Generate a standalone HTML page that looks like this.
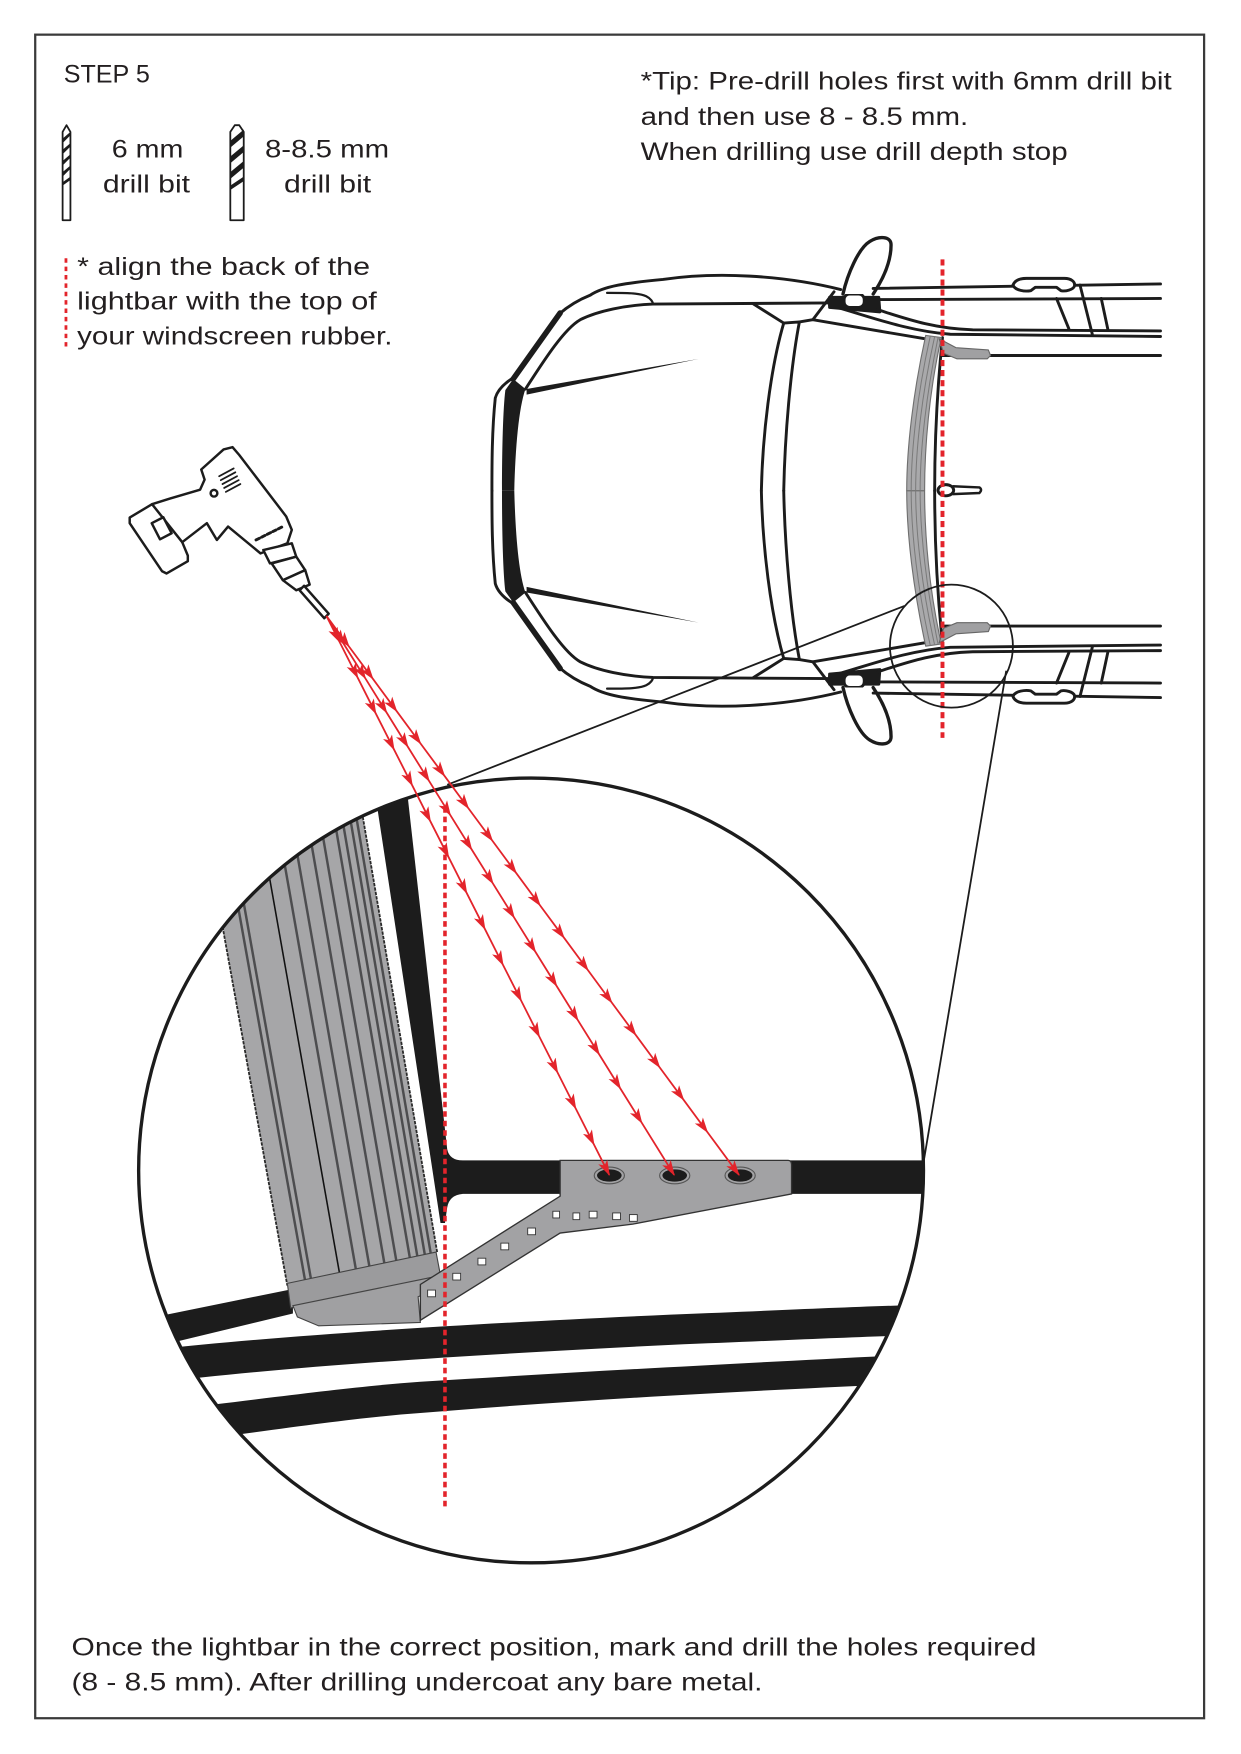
<!DOCTYPE html>
<html><head><meta charset="utf-8"><style>
html,body{margin:0;padding:0;background:#fff;}
svg{display:block;}
text{font-family:"Liberation Sans",Arial,sans-serif;font-size:22.5px;fill:#231f20;}
</style></head><body>
<svg width="1241" height="1754" viewBox="0 0 1110 1569" preserveAspectRatio="none" xmlns="http://www.w3.org/2000/svg" xmlns:xlink="http://www.w3.org/1999/xlink">
<defs>
<marker id="ah" markerUnits="userSpaceOnUse" markerWidth="16" markerHeight="12" refX="13" refY="4.5" orient="auto">
<path d="M0,0 L14,4.5 L0,9 L3.5,4.5 Z" fill="#e3242b"/>
</marker>
<clipPath id="bc"><circle cx="475" cy="1047" r="350"/></clipPath>
</defs>
<rect x="0" y="0" width="1110" height="1569" fill="#fff"/>
<rect x="31.5" y="31" width="1045.5" height="1506" fill="none" stroke="#3a3a3a" stroke-width="2"/>

<!-- texts -->
<text x="57" y="74" textLength="77" lengthAdjust="spacingAndGlyphs">STEP 5</text>
<text x="100" y="141" textLength="64" lengthAdjust="spacingAndGlyphs">6 mm</text>
<text x="92" y="172" textLength="78" lengthAdjust="spacingAndGlyphs">drill bit</text>
<text x="237" y="141" textLength="111" lengthAdjust="spacingAndGlyphs">8-8.5 mm</text>
<text x="254" y="172" textLength="78" lengthAdjust="spacingAndGlyphs">drill bit</text>
<text x="69" y="246" textLength="262" lengthAdjust="spacingAndGlyphs">* align the back of the</text>
<text x="69" y="277" textLength="268" lengthAdjust="spacingAndGlyphs">lightbar with the top of</text>
<text x="69" y="308" textLength="282" lengthAdjust="spacingAndGlyphs">your windscreen rubber.</text>
<text x="573" y="80" textLength="475" lengthAdjust="spacingAndGlyphs">*Tip: Pre-drill holes first with 6mm drill bit</text>
<text x="573" y="112" textLength="293" lengthAdjust="spacingAndGlyphs">and then use 8 - 8.5 mm.</text>
<text x="573" y="143" textLength="382" lengthAdjust="spacingAndGlyphs">When drilling use drill depth stop</text>
<text x="64" y="1481" textLength="863" lengthAdjust="spacingAndGlyphs">Once the lightbar in the correct position, mark and drill the holes required</text>
<text x="64" y="1512" textLength="618" lengthAdjust="spacingAndGlyphs">(8 - 8.5 mm). After drilling undercoat any bare metal.</text>

<line x1="59" y1="231" x2="59" y2="312" stroke="#e3242b" stroke-width="2.5" stroke-dasharray="4 3.5"/>

<!-- drill bit icons -->
<g stroke="#1c1c1c" stroke-width="1.6" fill="#fff" stroke-linejoin="round">
<path d="M56,118 L59.5,112 L63,118 L63,197 L56,197 Z"/>
<path d="M56,124 L63,118 L63,121 L56,128 Z M56,134 L63,128 L63,131 L56,138 Z M56,144 L63,138 L63,141 L56,148 Z M56,154 L63,148 L63,151 L56,158 Z M56,163 L63,158 L63,161 L56,166 Z" fill="#1c1c1c" stroke="none"/>
<path d="M206,118 L210,112 L214,112 L218,118 L218,197 L206,197 Z"/>
<path d="M206,126 L218,116 L218,122 L206,132 Z M206,140 L218,130 L218,136 L206,146 Z M206,154 L218,144 L218,150 L206,160 Z M206,166 L218,158 L218,162 L206,170 Z" fill="#1c1c1c" stroke="none"/>
</g>

<!-- car top half -->
<g id="ct" fill="none" stroke="#1c1c1c" stroke-width="2.6" stroke-linecap="round" stroke-linejoin="round">
<path d="M752,259 C700,246 640,243 593,250 C560,253 540,256 528,264 C518,268 508,274 500,281 L459,338 C451,343 445,349 443,356 C440,385 440,415 440,439"/>
<path d="M501,280 L459,339" stroke-width="5"/>
<path d="M459,339 L470,348 C464,365 461,400 460,439 L449,439 C449,400 450,365 452,349 Z" fill="#1c1c1c" stroke="none"/>
<path d="M470,348 C488,320 505,294 519,286 C535,278 560,273 584,272 L742,271"/>
<path d="M543,262 C560,262 572,262 578,265 C582,267 584,270 584,272" stroke-width="2"/>
<path d="M471,348 L625,321 L471,353 Z" fill="#1c1c1c" stroke="none"/>
<path d="M674,272 L701,289 C689,330 682,390 681,439"/>
<path d="M701,289 L715,288 C707,330 702,390 701,439"/>
<path d="M715,288 L727,286 L746,261"/>
<path d="M727,286 L827,303"/>
<path d="M742,266 L786,266 L787,279 L742,275 Z" fill="#1c1c1c"/>
<rect x="755" y="263" width="18" height="12" rx="5" fill="#fff"/>
<path d="M754,263 C758,245 768,222 778,216 C786,211 797,211 797,219 C797,235 789,251 781,263" fill="#fff" stroke-width="3"/>
<path d="M781,258 L1038,254"/>
<path d="M787,268 L1038,267"/>
<path d="M785,277 C810,285 835,294 870,295 L1038,296"/>
<path d="M742,273 C775,282 810,296 850,299 L1038,301"/>
<path d="M843,318 L1038,318"/>
<path d="M906,255 C908,250 913,249 918,249 L952,249 C958,249 962,252 961,256 C960,259 953,261 949,260 L945,257 L926,257 L922,260 C917,261 908,260 906,255 Z" fill="#fff"/>
<path d="M945,267 L956,294 M966,255 L977,299 M985,267 L991,295"/>
<path d="M843,302 C838,350 836,400 836,439"/>
<path d="M828,300 C817,350 811,400 811,439 L827,439 C827,400 831,350 842,302 Z" fill="#a9a9ab" stroke="#6f6f6f" stroke-width="1"/>
<path d="M832,301 C821,350 815,400 815,439 M836,301 C825,350 819,400 819,439 M839,302 C829,350 823,400 823,439" stroke="#7a7a7a" stroke-width="0.9"/>
<path d="M840,303 L855,311 L884,313 L886,318 L883,321 L856,321 L844,316 Z" fill="#a0a0a2" stroke="#666" stroke-width="1"/>
</g>
<use xlink:href="#ct" href="#ct" transform="matrix(1,0,0,-1,0,878)"/>
<!-- wiper -->
<path d="M852,435 L876,436 Q879,438 876,441 L852,442" fill="#fff" stroke="#1c1c1c" stroke-width="2.2"/>
<ellipse cx="846" cy="438.5" rx="7" ry="5" fill="#fff" stroke="#1c1c1c" stroke-width="2.6"/>

<!-- car red dotted line -->
<line x1="843" y1="232" x2="843" y2="660" stroke="#e3242b" stroke-width="3.5" stroke-dasharray="5.5 3.5"/>

<!-- callout -->
<circle cx="851" cy="578" r="55" fill="none" stroke="#1c1c1c" stroke-width="1.6"/>
<line x1="809" y1="542" x2="400" y2="702" stroke="#1c1c1c" stroke-width="1.6"/>
<line x1="900" y1="600" x2="826" y2="1040" stroke="#1c1c1c" stroke-width="1.6"/>

<!-- drill -->
<g fill="#fff" stroke="#1c1c1c" stroke-width="2.2" stroke-linejoin="round" stroke-linecap="round">
<path d="M116,463 L136,451 L152,446 L179,438 L183,429 L180,420 L200,402 L208,400 L214,407 L256,462 L261,474 L257,486 L233,495 L204,471 L194,483 L185,468 L163,485 L168,497 L168,502 L149,513 L145,511 L116,468 Z"/>
<path d="M136,451 L163,485" fill="none"/>
<path d="M135.7,468 L146.1,462.7 L153.5,477 L143.1,482.4 Z"/>
<path d="M196,426 L209,419 M197.5,429.5 L210.5,422.5 M199,433 L212,426 M200.5,436.5 L213.5,429.5 M202,440 L215,433" fill="none" stroke-width="1.6"/>
<circle cx="191.4" cy="441.2" r="3"/>
<path d="M229,483 L232,481.5 M234,480.5 L237,479 M239,478 L242,476.5 M244,475.5 L247,474 M249,473 L252,471.5" fill="none" stroke-width="2.6"/>
<path d="M235.5,492 L261,486 L265,498 L241.5,504 Z"/>
<path d="M243,504 L265,498 L273,510 L253,519 Z"/>
<path d="M253,519 L273,510 L277,523 L265,528 Z"/>
<path d="M268,528 L272,524 L294,549 L290,553 Z"/>
</g>

<!-- big circle detail -->
<g clip-path="url(#bc)">
<path d="M331,680 L361,680 L400,1028 Q402,1038 414,1038 L830,1038 L830,1068 L414,1068 Q402,1069 400,1080 L398,1094 L394,1094 Z" fill="#1c1c1c"/>
<path d="M100,1186 L262,1153 L262,1175 L100,1214 Z" fill="#1c1c1c"/>
<path d="M130,1208 C250,1195 400,1185 600,1176 C700,1172 760,1169 830,1167 L830,1194 C760,1196 700,1199 600,1203 C400,1213 250,1223 130,1238 Z" fill="#1c1c1c"/>
<path d="M170,1259 C260,1248 320,1240 376,1236 C520,1227 650,1220 830,1211 L830,1237 C650,1245 520,1252 376,1264 C320,1268 260,1277 170,1289 Z" fill="#1c1c1c"/>
<!-- lightbar -->
<path d="M165,640 L309,640 L391,1120 L257,1150 Z" fill="#a6a6a8"/>
<g fill="none" stroke="#4d4d4f" stroke-width="2.2">
<path d="M182.3,640 L273.1,1146.6"/>
<path d="M188,640 L278.4,1145.5"/>
<path d="M215.4,640 L303.9,1140.2" stroke="#111" stroke-width="1.4"/>
<path d="M231.2,640 L318.6,1137.1"/>
<path d="M244.2,640 L330.7,1134.6"/>
<path d="M258.6,640 L344.1,1131.8"/>
<path d="M270.1,640 L354.8,1129.6"/>
<path d="M283.1,640 L366.9,1127"/>
<path d="M290.3,640 L373.6,1125.6"/>
<path d="M297.5,640 L380.3,1124.2"/>
<path d="M303.2,640 L385.6,1123.1"/>
</g>
<path d="M165,640 L257,1150 M309,640 L391,1120" fill="none" stroke="#2a2a2a" stroke-width="1.6" stroke-dasharray="3 1"/>
<path d="M257,1148 L390,1120 L394,1141 L260,1170 Z" fill="#9b9b9d" stroke="#444" stroke-width="1"/>
<path d="M262,1168 L394,1141 L398,1150 L374,1160 L376,1183 L285,1186 L266,1178 Z" fill="#a0a0a2" stroke="#444" stroke-width="1"/>
<!-- bracket -->
<path d="M501,1038 L705,1038 Q708,1038 708,1042 L708,1068 L566,1095 L501,1103 L376,1181 L376,1149 L501,1070 Z" fill="#a2a2a4" stroke="#333" stroke-width="1.2"/>
<g fill="#fff" stroke="#333" stroke-width="0.8">
<rect x="563" y="1086.5" width="7" height="6"/>
<rect x="548" y="1085" width="7" height="6"/>
<rect x="527" y="1083.5" width="7" height="6"/>
<rect x="512.5" y="1085" width="6" height="6"/>
<rect x="494.5" y="1083.5" width="6" height="6"/>
<rect x="472" y="1098.5" width="7" height="6"/>
<rect x="448" y="1112" width="7" height="6"/>
<rect x="427.5" y="1125.5" width="7" height="6"/>
<rect x="405" y="1139" width="7" height="6"/>
<rect x="382.5" y="1154" width="7" height="6"/>
</g>
<g>
<ellipse cx="545" cy="1051.5" rx="13.5" ry="7.5" fill="none" stroke="#555" stroke-width="1"/>
<ellipse cx="545" cy="1051.5" rx="11" ry="5.5" fill="#1c1c1c"/>
<ellipse cx="603.5" cy="1051.5" rx="13.5" ry="7.5" fill="none" stroke="#555" stroke-width="1"/>
<ellipse cx="603.5" cy="1051.5" rx="11" ry="5.5" fill="#1c1c1c"/>
<ellipse cx="662" cy="1051.5" rx="13.5" ry="7.5" fill="none" stroke="#555" stroke-width="1"/>
<ellipse cx="662" cy="1051.5" rx="11" ry="5.5" fill="#1c1c1c"/>
</g>
<line x1="398" y1="722" x2="398" y2="1350" stroke="#e3242b" stroke-width="3.2" stroke-dasharray="5 3.5"/>
</g>
<circle cx="475" cy="1047" r="351" fill="none" stroke="#1c1c1c" stroke-width="3"/>

<!-- arrows -->
<g fill="none" stroke="#e3242b" stroke-width="1.6">
<polyline marker-mid="url(#ah)" marker-end="url(#ah)" points="292,551 303.7,574.2 320,606.3 336.2,638.4 352.5,670.6 368.8,702.7 385,734.8 401.3,766.9 417.5,799 433.8,831.2 450,863.3 466.3,895.4 482.5,927.5 498.8,959.6 515,991.7 531.3,1023.9 545,1051"/>
<polyline marker-mid="url(#ah)" marker-end="url(#ah)" points="292,551 307.8,576.5 326.9,607 345.9,637.6 364.9,668.2 383.9,698.8 402.9,729.3 421.9,759.9 441,790.5 460,821 479,851.6 498,882.2 517,912.8 536,943.3 555,973.9 574.1,1004.5 603,1051"/>
<polyline marker-mid="url(#ah)" marker-end="url(#ah)" points="292,551 312.2,578.4 333.6,607.3 354.9,636.3 376.3,665.3 397.7,694.2 419.1,723.2 440.5,752.2 461.8,781.1 483.2,810.1 504.6,839 526,868 547.3,897 568.7,925.9 590.1,954.9 611.5,983.9 632.8,1012.8 661,1051"/>
</g>
</svg>
</body></html>
